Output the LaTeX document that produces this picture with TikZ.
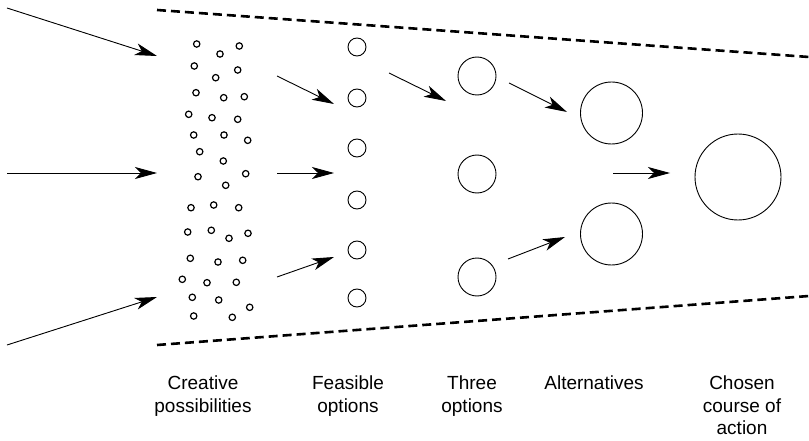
\documentclass[tikz,border=0pt]{standalone}
\usepackage{fontspec}
\setmainfont{Liberation Sans}
\usetikzlibrary{arrows.meta,positioning}

\begin{document}
\begin{tikzpicture}[x=1pt,y=-1pt,
		tiny/.style={circle, draw, line width=1.2pt, inner sep=0pt, minimum size=6.4pt},
		opt/.style={circle, draw, line width=0.9pt, inner sep=0pt, minimum size=#1},
		flow/.style={line width=0.9pt, -{Stealth[length=22pt,width=12pt,inset=6pt]}},
		bound/.style={line width=2.6pt, dash pattern=on 9pt off 5pt},
		caption/.style={align=center, anchor=north, inner sep=0pt, font=\fontsize{19}{22.5}\selectfont}]
		\useasboundingbox (0,0) rectangle (809,441);

		% creative possibilities
		\foreach \x/\y [count=\i] in {196.7/44, 220/54, 239.3/46, 194.3/66, 215.7/77.7, 237.7/70,
			196/92.7, 223.7/97.7, 244.3/96.7, 188.7/114.3, 212/117.7, 237.7/119.3,
			193.7/135, 224/135, 247.7/140.3, 199.7/151.7, 223.3/161, 198/176.7,
			245.7/173.7, 225.7/185.3, 191/207.7, 213.7/205, 238.7/207.7, 187.7/232,
			211.3/230.3, 229/238.3, 248/233.3, 190.3/258.3, 218/262, 242.7/260.3,
			182.3/279.3, 207/282.7, 236.3/282.3, 192.3/297.3, 218.7/300, 249.7/307.3,
			193.7/316, 232.3/317.3}
			\draw (\x,\y) node [tiny] (p\i) {};

		% feasible options
		\foreach \y [count=\i] in {47, 98, 148, 200, 250, 298}
			\draw (357,\y) node [opt=18pt] (f\i) {};

		% three options, alternatives, chosen
		\draw (477,76) node [opt=38pt] (t1) {};
		\draw (477,174) node [opt=38pt] (t2) {};
		\draw (477,277) node [opt=38pt] (t3) {};
		\draw (611.5,113) node [opt=62pt] (a1) {};
		\draw (611.5,234) node [opt=62pt] (a2) {};
		\draw (738,177) node [opt=86pt] (c) {};

		% funnel
		\coordinate (tl) at (157,10);
		\coordinate (tr) at (809,57);
		\coordinate (bl) at (157,345);
		\coordinate (br) at (809,296);
		\draw [bound] (tl) -- (tr);
		\draw [bound] (bl) -- (br);

		% arrows
		\coordinate (in1) at (7,8);     \coordinate (in1e) at (157,56);
		\coordinate (in2) at (7,173);   \coordinate (in2e) at (157,173);
		\coordinate (in3) at (7,345);   \coordinate (in3e) at (157,297);
		\coordinate (s1) at (277,76);   \coordinate (s1e) at (334,104);
		\coordinate (s2) at (277,173);  \coordinate (s2e) at (334,173);
		\coordinate (s3) at (277,277);  \coordinate (s3e) at (334,257);
		\coordinate (u1) at (389,73);   \coordinate (u1e) at (446,101);
		\coordinate (v1) at (509,83);   \coordinate (v1e) at (567,112);
		\coordinate (v2) at (508,259);  \coordinate (v2e) at (565,237);
		\coordinate (w1) at (613,173);  \coordinate (w1e) at (670,173);
		\draw [flow] (in1) -- (in1e);
		\draw [flow] (in2) -- (in2e);
		\draw [flow] (in3) -- (in3e);
		\draw [flow] (s1) -- (s1e);
		\draw [flow] (s2) -- (s2e);
		\draw [flow] (s3) -- (s3e);
		\draw [flow] (u1) -- (u1e);
		\draw [flow] (v1) -- (v1e);
		\draw [flow] (v2) -- (v2e);
		\draw [flow] (w1) -- (w1e);

		% captions
		\node [caption] (l1) at (203,376) {Creative\\possibilities};
		\node [caption] (l2) at (348,376) {Feasible\\options};
		\node [caption] (l3) at (472,376) {Three\\options};
		\node [caption] (l4) at (594,376) {Alternatives};
		\node [caption] (l5) at (742,376) {Chosen\\course of\\action};
\end{tikzpicture}
\end{document}
